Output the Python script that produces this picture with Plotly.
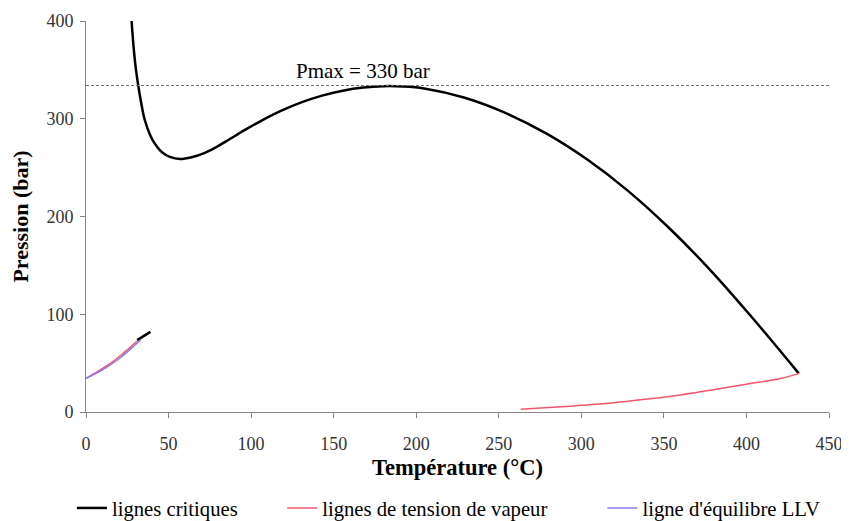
import plotly.graph_objects as go

# Critical line (main branch)
crit_T = [27.6, 29.0, 30.2, 31.6, 33.5, 35.6, 38.7, 41.5, 44.7, 47.5, 50.8, 56.8, 64.0,
          71.6, 79.0, 86.4, 96.0, 106.1, 118.0, 130.8, 143.0, 155.5, 168.0, 180.0, 192.0,
          204.8, 229.4, 254.0, 278.7, 303.4, 328.1, 352.7, 377.4, 402.0, 431.7]
crit_P = [400, 370, 351, 334.5, 315.5, 298.7, 284, 275, 268, 264, 261, 258.8, 260.6,
          264.8, 271.1, 278.5, 288.3, 297.9, 308, 317, 323.7, 328.7, 331.9, 333.3, 333.0,
          331, 321.5, 306, 285, 258.5, 226.5, 189, 146.5, 99.5, 39.5]

# Short critical segment (low temperature)
crit2_T = [31.0, 35.0, 39.0]
crit2_P = [73.5, 77.5, 82.0]

# Vapour pressure lines
vap1_T = [0, 5, 10, 15, 20, 25, 31]
vap1_P = [34.5, 39.5, 44.5, 50.0, 56.5, 63.5, 72.5]
vap2_T = [263.3, 280, 300, 320, 340, 360, 380, 400, 420, 432]
vap2_P = [2.8, 4.5, 6.8, 9.5, 13.3, 17.5, 22.7, 28.5, 34.0, 39.5]

# LLV equilibrium line
llv_T = [0, 5, 10, 15, 20, 25, 30, 33]
llv_P = [34.5, 38.5, 43.0, 48.5, 54.5, 61.5, 69.0, 73.5]

PMAX_LINE = 334
PMAX_LABEL = "Pmax = 330 bar"

x_ticks = [0, 50, 100, 150, 200, 250, 300, 350, 400, 450]
y_ticks = [0, 100, 200, 300, 400]

FONT = "Liberation Serif"
BLACK = "#000000"
PINK = "#f2566c"
BLUE = "#8a7cf0"

fig = go.Figure()
fig.add_trace(go.Scatter(x=crit_T, y=crit_P, mode="lines", name="lignes critiques",
                         line=dict(color=BLACK, width=2.5, shape="spline", smoothing=1.0),
                         legend="legend"))
fig.add_trace(go.Scatter(x=crit2_T, y=crit2_P, mode="lines", showlegend=False,
                         line=dict(color=BLACK, width=2.5)))
fig.add_trace(go.Scatter(x=vap1_T, y=vap1_P, mode="lines", name="lignes de tension de vapeur",
                         line=dict(color=PINK, width=1.5, shape="spline"), legend="legend2"))
fig.add_trace(go.Scatter(x=vap2_T, y=vap2_P, mode="lines", showlegend=False,
                         line=dict(color=PINK, width=1.5, shape="spline")))
fig.add_trace(go.Scatter(x=llv_T, y=llv_P, mode="lines", name="ligne d'équilibre LLV",
                         line=dict(color=BLUE, width=1.5, shape="spline"), legend="legend3"))

fig.add_hline(y=PMAX_LINE, line=dict(color="#707070", width=1, dash="3px,2px"))
fig.add_annotation(x=168, y=PMAX_LINE, text=PMAX_LABEL, showarrow=False,
                   yanchor="bottom", yshift=1, font=dict(family=FONT, size=21, color="#000"))

axis_common = dict(showline=True, linecolor="#868686", linewidth=1, ticks="outside",
                   ticklen=5, tickcolor="#868686", showgrid=False, zeroline=False,
                   automargin=False,
                   tickfont=dict(family=FONT, size=18, color="#333333"))

leg_common = dict(orientation="h", yanchor="middle", y=-0.2455, xanchor="left",
                  font=dict(family=FONT, size=20.7, color="#000"), bgcolor="rgba(0,0,0,0)",
                  itemwidth=30)

# The page body adds an 8px offset; margins compensate so the plot area lands
# where the reference has it.
fig.update_layout(
    width=849, height=521,
    margin=dict(l=78, r=28, t=13, b=117, autoexpand=False),
    plot_bgcolor="white", paper_bgcolor="white",
    font=dict(family=FONT),
    xaxis=dict(range=[0, 450], tickvals=x_ticks, ticklabelstandoff=10,
               title=dict(text="<b>Température (°C)</b>", standoff=6,
                          font=dict(family=FONT, size=22.5, color="#000")),
               **axis_common),
    yaxis=dict(range=[0, 400], tickvals=y_ticks, ticklabelstandoff=3,
               title=dict(text="<b>Pression (bar)</b>", standoff=12,
                          font=dict(family=FONT, size=22, color="#000")),
               **axis_common),
    legend=dict(x=-0.019, **leg_common),
    legend2=dict(x=0.264, **leg_common),
    legend3=dict(x=0.695, **leg_common),
)

fig.write_html("out.html")
